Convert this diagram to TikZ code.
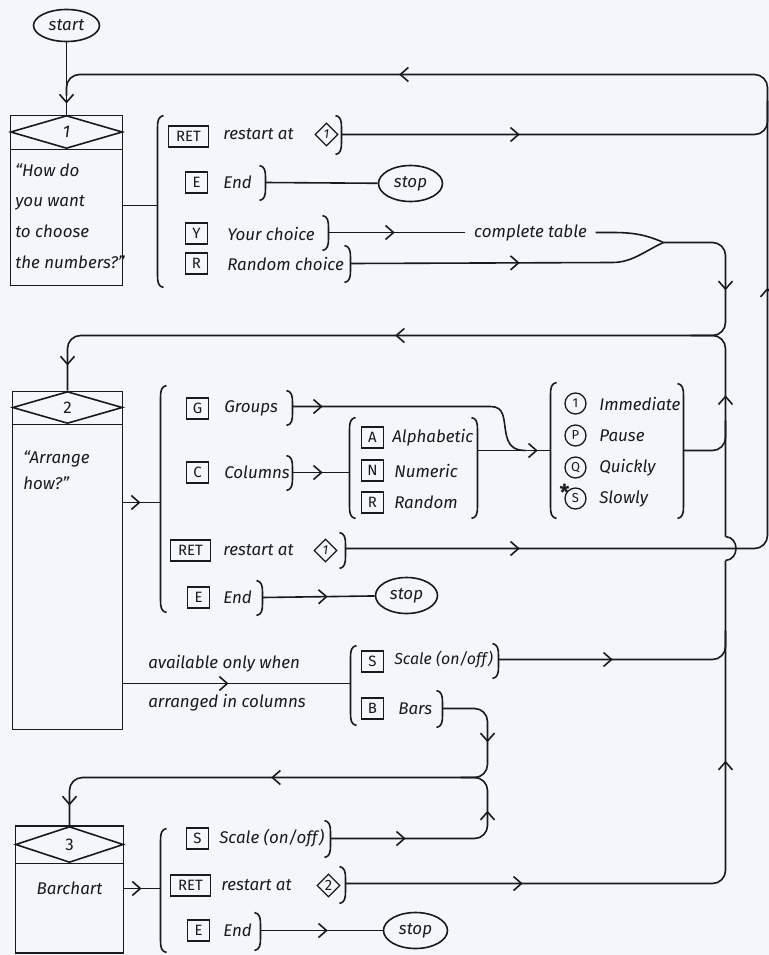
\documentclass[tikz,border=0pt]{standalone}
\usepackage{fontspec}
\setmainfont{Fira Sans}
\usetikzlibrary{shapes.geometric,decorations.markings}
\definecolor{ink}{RGB}{25,25,35}
\definecolor{paper}{RGB}{243,246,250}
\newcommand{\labfont}{\fontsize{17}{31}\selectfont\itshape}
\newcommand{\keyfont}{\fontsize{15}{15}\selectfont}
\newcommand{\circfont}{\fontsize{13}{13}\selectfont}
\newcommand{\sdiafont}{\fontsize{13}{13}\selectfont\itshape}
\newcommand{\openbr}[3]{\draw[brk] (#1+6,#2) .. controls (#1+1,#2+1) and (#1,#2+5) .. (#1,#2+12) -- (#1,#3-12) .. controls (#1,#3-5) and (#1+1,#3-1) .. (#1+6,#3);}
\newcommand{\closebr}[3]{\draw[brk] (#1-6,#2) .. controls (#1-1,#2+1) and (#1,#2+5) .. (#1,#2+12) -- (#1,#3-12) .. controls (#1,#3-5) and (#1-1,#3-1) .. (#1-6,#3);}
\begin{document}
\begin{tikzpicture}[x=1bp,y=-1bp,color=ink,line width=1.6bp,
 lab/.style={anchor=west,inner sep=0pt,font=\labfont},
 key/.style={draw,rectangle,minimum width=22bp,minimum height=21bp,inner sep=0pt,line width=1.3bp,font=\keyfont},
 rkey/.style={key,minimum width=40bp},
 circ/.style={draw,circle,minimum size=21bp,inner sep=0pt,line width=1.3bp,font=\circfont},
 term/.style={draw,ellipse,inner sep=0pt,font=\labfont},
 box/.style={draw,rectangle,inner sep=0pt},
 dia/.style={draw,diamond,inner sep=0pt},
 sdia/.style={draw,diamond,inner sep=0pt,minimum width=23bp,minimum height=23bp,line width=1.3bp,font=\sdiafont},
 brk/.style={line width=1.6bp},
 arrowat/.style={postaction={decorate,decoration={markings,mark=at position #1 with {\draw[line width=1.6bp,sharp corners,line join=miter] (-7bp,7bp) -- (1bp,0bp) -- (-7bp,-7bp);}}}},
 rc/.style={rounded corners=13bp}]
\fill[paper] (0,0) rectangle (769,955);
\useasboundingbox (0,0) rectangle (769,955);
\begin{scope}[shift={(0.5,0.5)}]
% ---------- section 1 nodes
\node[term,minimum width=66bp,minimum height=32bp] (start) at (66,25) {start};
\node[box,minimum width=112bp,minimum height=170bp] (b1) at (66,200) {};
\node[dia,minimum width=112bp,minimum height=33bp,font=\labfont] (d1) at (66,131.5) {1};
\draw (b1.west |- d1.south) -- (b1.east |- d1.south);
\node[lab,anchor=north west,align=left] (q1) at (14,162) {“How do\\you want\\to choose\\the numbers?”};
\node[rkey] (k1a) at (188,136) {RET};
\node[lab] (t1a) at (222,134) {restart at};
\node[sdia] (g1a) at (326,134) {1};
\node[key] (k1b) at (196,182) {E};
\node[lab] (t1b) at (222,182) {End};
\node[key] (k1c) at (196,233) {Y};
\node[lab] (t1c) at (226,233) {Your choice};
\node[key] (k1d) at (196,263) {R};
\node[lab] (t1d) at (226,263) {Random choice};
\node[term,minimum width=64bp,minimum height=36bp] (s1) at (410,183) {stop};
\node[lab,anchor=center,inner xsep=8bp] (ct) at (530,232) {complete table};
\openbr{157}{115}{287}
\closebr{341}{115}{154}
\closebr{265}{165}{200}
\closebr{328}{215}{250}
\closebr{350}{245}{282}
\coordinate (i1) at (157,205);
\coordinate (o1a) at (341,134);
\coordinate (o1b) at (265,182);
\coordinate (o1c) at (328,232);
\coordinate (o1d) at (350,263);
\coordinate (m1) at (663,242);
% ---------- section 2 nodes
\node[box,minimum width=110bp,minimum height=338bp] (b2) at (67,560) {};
\node[dia,minimum width=110bp,minimum height=32bp,font={\labfont\upshape}] (d2) at (67,407) {2};
\draw (b2.west |- d2.south) -- (b2.east |- d2.south);
\node[lab,anchor=north west,align=left,font={\fontsize{17}{27}\selectfont\itshape}] (q2) at (22,449) {“Arrange\\how?”};
\node[key] (k2a) at (197,408) {G}; \node[lab] (t2a) at (223,408) {Groups};
\node[key] (k2b) at (197,472) {C}; \node[lab] (t2b) at (223,472) {Columns};
\node[key] (k2c) at (372,437) {A}; \node[lab] (t2c) at (391,437) {Alphabetic};
\node[key] (k2d) at (372,470) {N}; \node[lab] (t2d) at (393,470) {Numeric};
\node[key] (k2e) at (372,502) {R}; \node[lab] (t2e) at (393,502) {Random};
\node[circ] (c2a) at (575,403) {1}; \node[lab] (t2f) at (598,403) {Immediate};
\node[circ] (c2b) at (575,435) {P}; \node[lab] (t2g) at (598,435) {Pause};
\node[circ] (c2c) at (575,467) {Q}; \node[lab] (t2h) at (598,467) {Quickly};
\node[circ] (c2d) at (575,498) {S}; \node[lab] (t2i) at (598,498) {Slowly};
\node[font={\fontsize{22}{22}\selectfont\bfseries},inner sep=0pt] (star) at (564,492) {*};
\node[rkey] (k2f) at (190,550) {RET}; \node[lab] (t2j) at (222,550) {restart at}; \node[sdia] (g2) at (325,550) {1};
\node[key] (k2g) at (198,597) {E}; \node[lab] (t2k) at (222,597) {End};
\node[term,minimum width=62bp,minimum height=36bp] (s2) at (406,595) {stop};
\node[lab] (t2l) at (147,663) {available only when};
\node[lab] (t2m) at (147,702) {arranged in columns};
\node[key] (k2h) at (372,661) {S}; \node[lab,font={\fontsize{16}{20}\selectfont\itshape}] (t2n) at (393,659) {Scale (on/off)};
\node[key] (k2i) at (372,708) {B}; \node[lab] (t2o) at (397,708) {Bars};
\openbr{160}{385}{612}
\closebr{292}{390}{425}
\closebr{292}{455}{490}
\openbr{349}{417}{518}
\closebr{477}{417}{518}
\openbr{550}{382}{518}
\closebr{683}{383}{518}
\closebr{345}{532}{568}
\closebr{262}{580}{615}
\openbr{350}{645}{725}
\closebr{498}{643}{678}
\closebr{442}{690}{727}
\coordinate (i2) at (160,502);
\coordinate (o2a) at (292,406);
\coordinate (o2b) at (292,472);
\coordinate (i2b) at (349,472);
\coordinate (o2c) at (477,450);
\coordinate (i2c) at (550,450);
\coordinate (o2d) at (683,450);
\coordinate (o2e) at (345,548);
\coordinate (o2f) at (262,597);
\coordinate (i2g) at (350,683);
\coordinate (o2h) at (498,659);
\coordinate (o2i) at (442,708);
% ---------- section 3 nodes
\node[box,minimum width=108bp,minimum height=127bp] (b3) at (69,889) {};
\node[dia,minimum width=108bp,minimum height=36bp,font={\labfont\upshape}] (d3) at (69,844) {3};
\draw (b3.west |- d3.south) -- (b3.east |- d3.south);
\node[lab,anchor=center] (q3) at (69,888) {Barchart};
\node[key] (k3a) at (197,838) {S}; \node[lab] (t3a) at (218,838) {Scale (on/off)};
\node[rkey] (k3b) at (190,885) {RET}; \node[lab] (t3b) at (220,885) {restart at}; \node[sdia,font=\keyfont] (g3) at (328,885) {2};
\node[key] (k3c) at (198,930) {E}; \node[lab] (t3c) at (222,930) {End};
\node[term,minimum width=64bp,minimum height=36bp] (s3) at (415,930) {stop};
\openbr{160}{828}{952}
\closebr{330}{820}{857}
\closebr{345}{866}{903}
\closebr{260}{912}{950}
\coordinate (i3) at (160,888);
\coordinate (o3a) at (330,838);
\coordinate (o3b) at (345,883);
\coordinate (o3c) at (260,930);
\coordinate (j1) at (725,560);
\coordinate (j2) at (725,536);
% ---------- connectors
\draw[arrowat=59bp] (start) -- (b1);
\draw (b1.east |- i1) -- (i1);
\draw[rc,arrowat=176bp,arrowat=841bp] (o1a) -- (767,134) -- (767,74) -- (66,74) -- (66,95);
\draw (o1b) -- (s1);
\draw[arrowat=64bp] (o1c) -- (ct);
\draw (ct.east) -- (612,232) .. controls (632,232) and (645,234) .. (m1);
\draw[arrowat=167bp] (o1d) -- (612,262) .. controls (632,262) and (645,250) .. (m1);
\draw[rc,arrowat=102bp,arrowat=472bp,arrowat=824bp] (m1) -- (725,242) -- (725,335) -- (67,335) -- (b2.north);
\draw[arrowat=15bp] (b2.east |- i2) -- (i2);
\draw[arrowat=28bp] (o2a) -- (490,406) .. controls (504,406) and (503,418) .. (505,430) .. controls (507,444) and (512,450) .. (525,450);
\draw[arrowat=28bp] (o2b) -- (i2b);
\draw[arrowat=58bp] (o2c) -- (i2c);
\draw[rc] (o2d) -- (725,450) -- (725,420);
\draw[rc,arrowat=172bp,arrowat=675bp] (o2e) -- (767,548) -- (767,100);
\draw[arrowat=63bp] (o2f) -- (s2);
\draw[arrowat=103bp] (b2.east |- i2g) -- (i2g);
\draw[rc,arrowat=112bp] (o2h) -- (725,659) -- (725,630);
\draw[rc,arrowat=71bp,arrowat=317bp,arrowat=541bp] (o2i) -- (487,708) -- (487,777) -- (69,777) -- (b3.north);
\draw[arrowat=15bp] (b3.east |- i3) -- (i3);
\draw[rc,arrowat=73bp,arrowat=177bp] (o3a) -- (487,838) -- (487,777) -- (460,777);
\draw[rc,arrowat=175bp,arrowat=495bp] (o3b) -- (725,883) -- (j1);
\draw (j1) .. controls (739,559) and (739,537) .. (j2);
\draw[rc,arrowat=139bp] (j2) -- (725,335) -- (690,335);
\draw[arrowat=65bp] (o3c) -- (s3);
\end{scope}
\end{tikzpicture}
\end{document}
